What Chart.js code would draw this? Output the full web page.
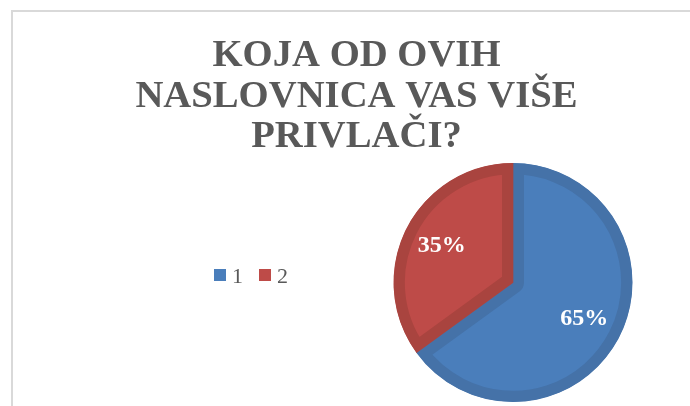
<!DOCTYPE html>
<html>
<head>
<meta charset="utf-8">
<script src="https://cdn.jsdelivr.net/npm/chart.js@4/dist/chart.umd.min.js"></script>
<style>
html,body{margin:0;padding:0;background:#fff;}
#wrap{position:relative;width:690px;height:406px;}
</style>
</head>
<body>
<div id="wrap"><canvas id="c" width="690" height="406"></canvas></div>
<script>
const titleLines = ['KOJA OD OVIH', 'NASLOVNICA VAS VIŠE', 'PRIVLAČI?'];
const categories = ['1', '2'];
const values = [65, 35];
const percentLabels = ['65%', '35%'];
const fillColors = ['#4a7ebb', '#be4b48'];
const borderColors = ['#4572a8', '#a9443f'];
const FAM = '"Liberation Serif", "Times New Roman", serif';

const decor = {
  id: 'decor',
  beforeDraw(chart) {
    const ctx = chart.ctx;
    ctx.save();
    ctx.fillStyle = '#ffffff';
    ctx.fillRect(0, 0, chart.width, chart.height);
    ctx.strokeStyle = '#d9d9d9';
    ctx.lineWidth = 2;
    ctx.beginPath();
    ctx.moveTo(12, chart.height);
    ctx.lineTo(12, 11);
    ctx.lineTo(chart.width, 11);
    ctx.stroke();
    ctx.restore();
  },
  afterDraw(chart) {
    const ctx = chart.ctx;
    ctx.save();
    ctx.fillStyle = '#595959';
    ctx.font = 'bold 38.7px ' + FAM;
    ctx.textAlign = 'center';
    ctx.textBaseline = 'alphabetic';
    const baselines = [66, 107, 147];
    titleLines.forEach((t, i) => ctx.fillText(t, 356.5, baselines[i]));
    ctx.font = '22px ' + FAM;
    ctx.textAlign = 'left';
    let x = 214;
    categories.forEach((cat, i) => {
      ctx.fillStyle = fillColors[i];
      ctx.fillRect(x, 269, 12, 12);
      ctx.fillStyle = '#595959';
      ctx.fillText(cat, x + 18, 283);
      x += 45;
    });
    const meta = chart.getDatasetMeta(0);
    ctx.fillStyle = '#ffffff';
    ctx.font = 'bold 24px ' + FAM;
    ctx.textAlign = 'center';
    ctx.textBaseline = 'middle';
    meta.data.forEach((arc, i) => {
      const mid = (arc.startAngle + arc.endAngle) / 2;
      const r = arc.outerRadius * 0.67;
      ctx.fillText(percentLabels[i], arc.x + Math.cos(mid) * r, arc.y + Math.sin(mid) * r);
    });
    ctx.restore();
  }
};

new Chart(document.getElementById('c'), {
  type: 'pie',
  data: {
    labels: categories,
    datasets: [{
      data: values,
      backgroundColor: fillColors,
      borderColor: borderColors,
      borderWidth: 11,
      borderAlign: 'inner'
    }]
  },
  options: {
    responsive: false,
    animation: false,
    events: [],
    layout: { padding: { left: 393, right: 57, top: 163, bottom: 4 } },
    plugins: {
      legend: { display: false },
      title: { display: false },
      tooltip: { enabled: false }
    }
  },
  plugins: [decor]
});
</script>
</body>
</html>
